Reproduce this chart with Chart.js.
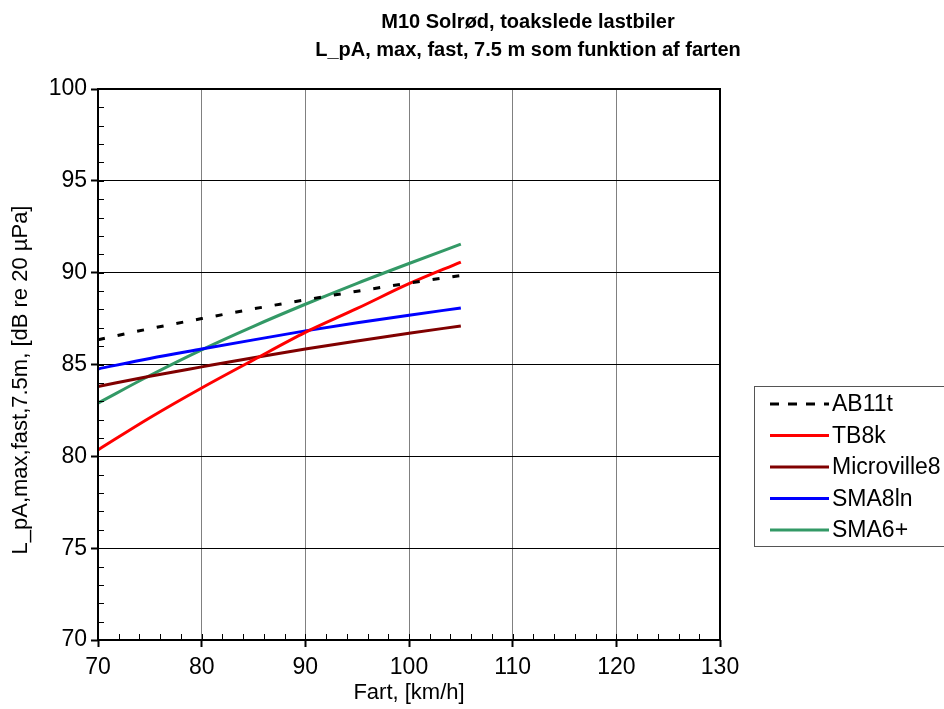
<!DOCTYPE html>
<html>
<head>
<meta charset="utf-8">
<script src="https://cdn.jsdelivr.net/npm/chart.js@4.4.1/dist/chart.umd.min.js"></script>
<style>
  body { margin: 0; background: #fff; }
  canvas { display: block; }
</style>
</head>
<body>
<canvas id="lineChart" width="944" height="709"></canvas>
<script>
// values
const speeds = [70, 75, 80, 85, 90, 95, 100, 105];
const ab11t = [86.35, 86.95, 87.5, 88.03, 88.52, 88.99, 89.43, 89.85];
const tb8k = [80.35, 82.1, 83.72, 85.25, 86.75, 88.05, 89.4, 90.58];
const microville8 = [83.8, 84.36, 84.87, 85.37, 85.84, 86.28, 86.7, 87.1];
const sma8ln = [84.76, 85.33, 85.84, 86.34, 86.83, 87.27, 87.68, 88.08];
const sma6plus = [82.9, 84.4, 85.8, 87.08, 88.28, 89.42, 90.5, 91.55];

const xTicks = [70, 80, 90, 100, 110, 120, 130];
const yTicks = [70, 75, 80, 85, 90, 95, 100];
const titleLines = ["M10 Solrød, toakslede lastbiler", "L_pA, max, fast, 7.5 m som funktion af farten"];
const xTitle = "Fart, [km/h]";
const yTitle = "L_pA,max,fast,7.5m, [dB re 20 µPa]";

const FONT = "Arial, 'Liberation Sans', sans-serif";

function points(arr) {
  return speeds.map((s, i) => ({ x: s, y: arr[i] }));
}

function series(label, arr, color, dash) {
  return {
    label: label,
    data: points(arr),
    borderColor: color,
    backgroundColor: color,
    borderWidth: 3,
    borderDash: dash || [],
    pointRadius: 0,
    cubicInterpolationMode: "monotone",
    fill: false,
  };
}

// title, y title, frame, minor ticks and legend box
const decorPlugin = {
  id: "decor",
  afterDraw(chart) {
    const ctx = chart.ctx;
    const a = chart.chartArea;
    const xs = chart.scales.x;
    const ys = chart.scales.y;
    ctx.save();

    ctx.strokeStyle = "#000";
    ctx.lineWidth = 1;
    ctx.beginPath();
    for (let v = xTicks[0]; v <= xTicks[xTicks.length - 1]; v += 2) {
      const px = Math.round(xs.getPixelForValue(v)) + 0.5;
      ctx.moveTo(px, a.bottom);
      ctx.lineTo(px, a.bottom - 6);
    }
    for (let v = yTicks[0]; v <= yTicks[yTicks.length - 1]; v += 1) {
      const py = Math.round(ys.getPixelForValue(v)) + 0.5;
      ctx.moveTo(a.left, py);
      ctx.lineTo(a.left + 6, py);
    }
    ctx.stroke();

    ctx.lineWidth = 2;
    ctx.strokeRect(a.left, a.top, a.right - a.left, a.bottom - a.top);

    // title
    ctx.fillStyle = "#000";
    ctx.font = "bold 20px " + FONT;
    ctx.textAlign = "center";
    ctx.textBaseline = "middle";
    ctx.fillText(titleLines[0], 528, 22);
    ctx.fillText(titleLines[1], 528, 50);

    // y axis title
    ctx.save();
    ctx.translate(21, 380);
    ctx.rotate(-Math.PI / 2);
    ctx.font = "22px " + FONT;
    ctx.fillText(yTitle, 0, 0);
    ctx.restore();

    // legend
    const lx = 754, ly = 386, lw = 192, lh = 160;
    ctx.lineWidth = 1;
    ctx.strokeStyle = "#555";
    ctx.strokeRect(lx + 0.5, ly + 0.5, lw, lh);
    ctx.font = "23px " + FONT;
    ctx.textAlign = "left";
    chart.data.datasets.forEach((ds, i) => {
      const y = ly + 18 + i * 31.5;
      ctx.strokeStyle = ds.borderColor;
      ctx.lineWidth = 3;
      ctx.setLineDash(ds.borderDash.length ? [9, 9] : []);
      ctx.beginPath();
      ctx.moveTo(770, y);
      ctx.lineTo(829, y);
      ctx.stroke();
      ctx.setLineDash([]);
      ctx.fillStyle = "#000";
      ctx.fillText(ds.label, 832, y + 1);
    });

    ctx.restore();
  },
};

const ctx = document.getElementById("lineChart").getContext("2d");
new Chart(ctx, {
  type: "line",
  data: {
    datasets: [
      series("AB11t", ab11t, "#000000", [7, 13]),
      series("TB8k", tb8k, "#ff0000"),
      series("Microville8", microville8, "#800000"),
      series("SMA8ln", sma8ln, "#0000ff"),
      series("SMA6+", sma6plus, "#339966"),
    ],
  },
  options: {
    responsive: false,
    animation: false,
    layout: { padding: { top: 89, right: 224, bottom: 0, left: 0 } },
    plugins: {
      legend: { display: false },
      tooltip: { enabled: false },
    },
    scales: {
      x: {
        type: "linear",
        min: xTicks[0],
        max: xTicks[xTicks.length - 1],
        afterFit: (s) => { s.height = 69; },
        afterBuildTicks: (s) => { s.ticks = xTicks.map((v) => ({ value: v })); },
        border: { display: false },
        grid: { color: "#808080", lineWidth: 1, tickColor: "#000", tickWidth: 2, tickLength: 7 },
        ticks: { color: "#000", font: { family: FONT, size: 23 }, padding: 7, maxRotation: 0 },
        title: { display: true, text: xTitle, color: "#000", font: { family: FONT, size: 22 }, padding: { top: 0, bottom: 3 } },
      },
      y: {
        type: "linear",
        min: yTicks[0],
        max: yTicks[yTicks.length - 1],
        afterFit: (s) => { s.width = 98; },
        afterBuildTicks: (s) => { s.ticks = yTicks.map((v) => ({ value: v })); },
        border: { display: false },
        grid: { color: "#000", lineWidth: 1, tickColor: "#000", tickWidth: 2, tickLength: 7 },
        ticks: { color: "#000", font: { family: FONT, size: 23 }, padding: 4 },
        title: { display: false },
      },
    },
  },
  plugins: [decorPlugin],
});
</script>
</body>
</html>
